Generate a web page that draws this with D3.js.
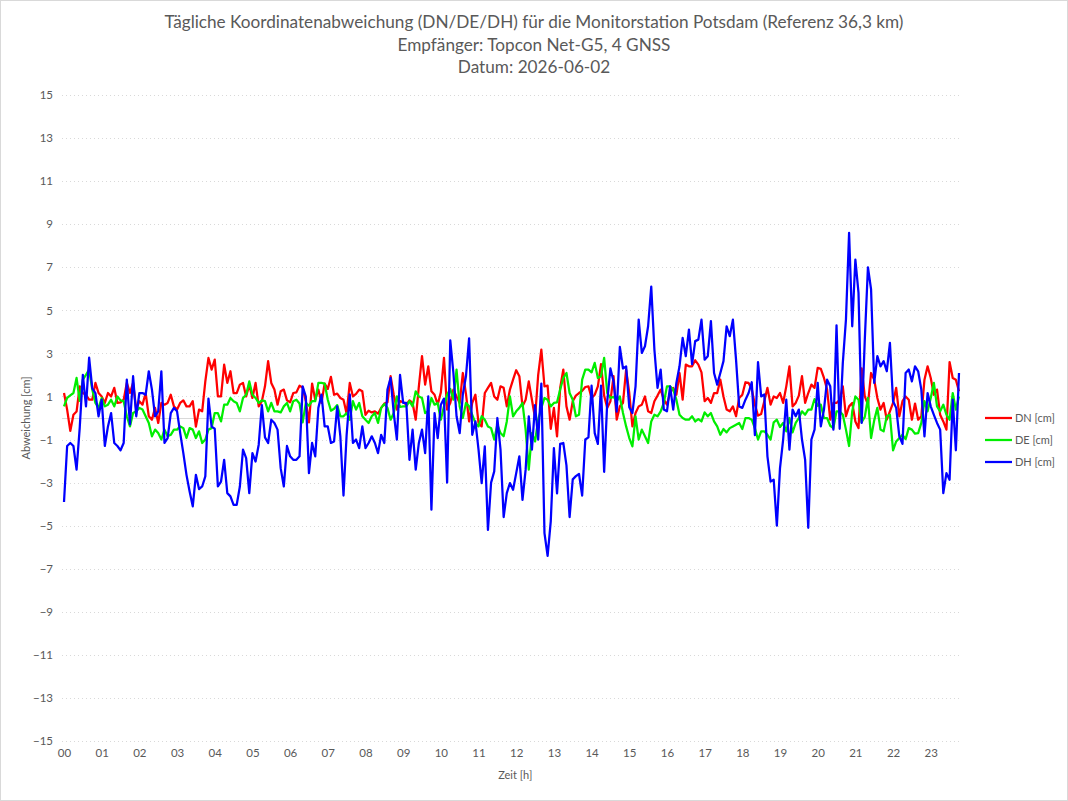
<!DOCTYPE html>
<html>
<head>
<meta charset="utf-8">
<script src="https://cdn.jsdelivr.net/npm/d3@7"></script>
<style>
  body { margin: 0; background: #fff; }
  svg { display: block; }
  text { font-family: Lato, "Open Sans", sans-serif; fill: #595959; }
</style>
</head>
<body>
<svg id="chart" width="1068" height="801"></svg>
<script>
var titleLines = [
  "Tägliche Koordinatenabweichung (DN/DE/DH) für die Monitorstation Potsdam (Referenz 36,3 km)",
  "Empfänger: Topcon Net-G5, 4 GNSS",
  "Datum: 2026-06-02"
];
var seriesNames = ["DN [cm]", "DE [cm]", "DH [cm]"];
var seriesColors = ["#ff0000", "#00ee00", "#0000ff"];

// one value every 5 minutes, starting at 00:00
var stepMinutes = 5;

var dn = [1.16,0.39,-0.6,0.15,0.3,1.47,1.16,1.08,0.85,0.85,1.63,1.16,1.0,0.7,1.16,1.0,1.4,0.7,0.73,0.85,
  1.63,1.16,1.63,0.39,0.78,0.62,1.16,0.08,-0.08,0.47,-0.23,0.7,0.62,0.7,1.08,0.54,0.39,0.7,0.82,0.54,
  0.54,0.78,-0.4,0.39,0.31,1.7,2.79,2.25,2.71,1.0,1.0,2.48,1.63,2.17,1.16,1.16,1.55,1.63,1.0,1.55,
  0.93,1.63,0.54,0.78,1.47,2.64,1.63,1.32,0.62,1.24,1.32,0.82,0.73,1.16,1.19,1.5,1.41,0.78,-0.2,1.6,
  0.85,1.32,0.7,1.6,1.35,1.91,1.08,1.13,0.93,0.85,0.2,1.63,1.0,1.12,1.32,1.24,0.15,0.34,0.26,0.31,
  0.2,0.47,0.67,0.73,1.94,1.08,0.39,0.78,0.74,0.62,0.82,0.7,-0.08,1.47,2.87,1.55,2.4,1.24,1.08,0.62,
  1.19,2.79,0.39,0.7,1.32,1.0,0.7,2.09,1.12,-0.16,0.7,1.08,-0.23,-0.39,1.16,1.4,1.63,1.0,0.85,1.47,
  1.4,0.54,1.32,1.78,2.22,1.94,0.54,0.85,1.7,0.85,0.0,2.0,3.18,1.47,1.5,-0.5,0.47,-0.85,1.4,2.25,
  0.54,-0.08,0.78,1.04,1.16,1.26,1.44,1.47,0.93,1.08,1.47,2.5,1.04,0.47,0.78,1.94,-0.08,0.54,0.7,2.25,
  1.16,-0.39,0.23,0.54,0.62,1.0,0.31,0.23,0.78,1.04,1.32,0.85,0.62,1.16,1.4,1.08,2.09,0.85,2.48,2.4,
  2.4,2.68,2.48,2.12,0.78,0.93,0.7,1.16,1.16,1.78,1.0,0.39,0.31,0.54,0.08,0.93,1.08,1.66,1.63,1.35,
  0.62,0.11,0.19,0.78,1.4,0.62,1.0,0.93,1.16,0.7,1.47,2.4,0.54,0.7,1.04,1.94,0.7,1.16,1.55,1.4,
  2.33,2.28,1.86,1.32,-0.08,0.7,0.7,0.85,1.47,0.08,0.54,0.7,-0.16,-0.47,2.3,1.0,0.62,2.09,1.78,0.93,
  0.39,0.7,-0.08,0.31,0.7,1.4,0.08,0.78,1.0,0.85,-0.08,0.67,-0.08,0.08,1.78,2.4,1.86,1.08,1.32,0.15,
  -0.16,-0.54,2.6,1.86,1.78,1.24];

var de = [0.54,0.93,1.05,1.16,1.86,0.8,1.78,2.0,2.25,1.32,0.7,0.47,0.93,0.54,0.62,0.85,0.54,1.0,0.82,0.78,
  0.08,-0.39,0.23,0.31,0.47,0.39,0.08,-0.23,-0.85,-0.54,-0.7,-1.0,-0.54,-0.85,-0.78,-0.54,-0.54,-0.39,-0.47,-0.93,
  -0.47,-0.54,-0.93,-0.62,-1.16,-1.0,-0.54,-0.47,0.23,0.23,-0.16,0.62,0.62,0.93,0.78,0.7,0.31,0.93,1.08,1.7,
  1.08,0.93,0.7,0.82,0.78,0.31,0.7,0.31,0.31,0.26,0.54,0.7,0.31,0.78,0.85,0.67,-0.2,0.7,0.57,0.78,
  0.78,1.63,1.63,1.6,0.85,0.34,0.43,0.6,0.08,0.08,0.23,-0.08,0.78,0.39,0.7,0.08,-0.08,-0.23,0.08,0.23,
  -0.23,0.47,0.65,0.47,-0.08,0.23,1.0,0.51,0.54,0.54,0.78,0.54,1.24,1.0,0.93,0.23,0.31,0.93,0.62,0.7,
  -0.08,0.54,1.08,1.35,0.85,2.25,0.54,0.0,0.7,0.54,0.15,-0.23,-0.39,0.08,-0.08,-0.39,-0.47,-1.0,-0.31,-0.7,
  -0.85,-0.16,1.0,0.08,0.31,0.47,0.7,-0.54,-2.4,-0.7,-1.09,-0.08,0.47,0.93,0.85,0.54,0.7,0.73,1.32,1.86,
  2.09,1.16,0.85,0.08,0.15,1.78,2.25,2.25,2.12,2.56,1.86,1.94,2.79,1.16,0.93,0.98,0.78,1.0,0.23,-0.39,
  -0.93,-1.32,0.08,-1.0,-0.54,-0.85,-1.16,-0.16,0.15,0.08,0.31,0.7,1.47,1.47,1.32,0.85,0.15,0.0,-0.08,-0.08,
  0.08,-0.16,-0.05,-0.16,0.26,0.08,0.23,-0.16,-0.39,-0.78,-0.51,-0.67,-0.47,-0.39,-0.31,-0.23,-0.51,0.0,0.0,-0.08,
  -0.47,-1.0,-0.62,-0.62,-0.78,-1.0,-0.2,-0.08,-0.42,-0.23,-0.62,0.0,-0.67,-0.23,0.0,0.31,0.15,0.39,0.39,0.88,
  0.57,0.62,0.0,0.0,-0.36,-0.47,0.31,0.31,0.15,-0.54,-1.3,0.31,1.0,0.85,-0.2,0.05,0.93,-0.93,-0.11,0.47,
  -0.54,-0.62,0.08,0.15,-1.5,-1.09,-0.93,-0.78,-0.98,-0.47,-0.54,-0.73,-0.7,-0.23,0.78,0.31,0.93,1.63,0.54,0.31,
  0.62,0.15,-0.08,1.16,0.39,1.0];

var dh = [-3.9,-1.3,-1.16,-1.3,-2.4,-0.47,2.0,0.54,2.8,1.38,1.16,0.08,0.85,-1.3,-0.39,0.23,-1.16,-1.3,-1.5,-1.16,
  1.78,-0.3,1.94,0.08,1.16,1.16,1.08,2.17,1.32,0.08,0.31,2.17,-1.16,-0.93,0.23,0.47,0.31,-0.7,-1.63,-2.64,
  -3.41,-4.1,-2.64,-3.3,-3.18,-2.71,0.9,-0.4,-0.5,-3.18,-2.95,-1.94,-3.49,-3.64,-4.03,-4.03,-3.18,-1.47,-1.86,-3.49,
  -1.63,-2.02,-1.24,0.6,-0.9,-1.16,-0.08,-0.23,-0.54,-2.33,-3.18,-1.3,-1.78,-1.94,-1.94,-1.78,1.47,1.0,-2.56,-1.16,
  -1.78,0.47,1.09,-0.39,-0.39,-1.16,-1.09,0.54,-0.85,-3.6,-0.78,1.1,-1.16,-1.0,-1.4,-0.39,-1.4,-1.16,-0.85,-1.16,
  -1.63,-0.78,-1.16,1.32,1.86,0.23,-1.0,2.0,0.7,0.7,-1.94,-0.54,-2.4,-1.16,-0.54,-1.63,1.0,-4.26,0.23,-0.93,
  0.62,0.9,-3.0,3.6,2.09,0.08,-0.7,1.09,1.94,3.7,-0.78,-0.16,-1.47,-3.02,-1.32,-5.2,-3.0,-2.48,0.0,-1.47,
  -4.6,-3.49,-3.02,-3.33,-2.56,-1.78,-3.8,-2.4,0.08,-1.47,0.6,-1.0,1.6,-5.35,-6.4,-4.8,-1.4,-3.5,-1.2,-1.16,
  -2.2,-4.6,-2.85,-2.7,-2.6,-3.6,-1.0,-0.9,1.5,-0.7,-1.2,1.5,-2.5,0.8,2.3,1.7,0.3,3.3,2.3,2.4,
  0.5,0.23,1.47,4.57,3.02,3.33,4.26,6.1,3.18,1.4,2.25,0.39,0.31,1.47,0.39,1.63,2.4,3.72,2.87,4.1,
  2.5,3.57,3.64,4.57,2.71,2.87,4.5,2.09,1.55,2.09,2.64,4.26,3.8,4.57,2.71,0.54,0.47,0.85,1.16,1.66,
  -0.8,2.6,1.0,1.09,-1.78,-2.95,-2.87,-5.0,-2.33,-1.0,0.85,-1.47,0.39,0.08,0.39,-1.0,-1.94,-5.1,-1.0,-0.54,
  1.63,-0.39,0.39,1.78,1.47,-0.54,4.3,-0.5,2.56,4.57,8.6,4.26,7.36,5.81,-0.23,3.64,7.0,5.97,1.63,2.87,
  2.4,2.64,2.17,3.49,0.78,0.47,-0.85,-1.2,2.09,2.25,1.7,2.4,2.17,1.32,-0.85,1.16,0.54,0.15,-0.23,-0.54,
  -3.49,-2.56,-2.87,0.85,-1.5,2.09];

var yTickValues = [-15,-13,-11,-9,-7,-5,-3,-1,1,3,5,7,9,11,13,15];
var hourLabels = ["00","01","02","03","04","05","06","07","08","09","10","11",
  "12","13","14","15","16","17","18","19","20","21","22","23"];

var W = 1068, H = 801;
var plot = { left: 62, right: 960, top: 95, bottom: 741 };
var svg = d3.select("#chart");

svg.append("rect")
  .attr("x", 0.5).attr("y", 0.5)
  .attr("width", W - 1).attr("height", H - 1)
  .attr("fill", "#fff").attr("stroke", "#d9d9d9");

var lastHour = (dn.length - 1) * stepMinutes / 60;
var x = d3.scaleLinear().domain([0, lastHour]).range([64, 959]);
var y = d3.scaleLinear().domain([-15, 15]).range([plot.bottom, plot.top]);

// title
svg.append("g").selectAll("text")
  .data(titleLines)
  .enter().append("text")
  .attr("x", W / 2)
  .attr("y", function(d, i) { return 28 + i * 22.5; })
  .attr("text-anchor", "middle")
  .style("font-size", "17.2px")
  .text(function(d) { return d; });

// horizontal grid
svg.append("g").selectAll("line")
  .data(yTickValues)
  .enter().append("line")
  .attr("x1", plot.left).attr("x2", plot.right)
  .attr("y1", function(d) { return Math.round(y(d)) + 0.5; })
  .attr("y2", function(d) { return Math.round(y(d)) + 0.5; })
  .attr("stroke", "#d9d9d9")
  .attr("stroke-dasharray", "1,3");

svg.append("line")
  .attr("x1", plot.left).attr("x2", plot.right)
  .attr("y1", Math.round(y(0)) + 0.5).attr("y2", Math.round(y(0)) + 0.5)
  .attr("stroke", "#d9d9d9");

// y axis labels
var yAxis = d3.axisLeft(y).tickValues(yTickValues).tickSize(0).tickPadding(8);
var gy = svg.append("g").attr("transform", "translate(" + (plot.left - 1) + ",0)").call(yAxis);
gy.select(".domain").remove();
gy.selectAll("text").style("font-size", "11.5px").attr("fill", "#595959");

// x axis labels
var xAxis = d3.axisBottom(x)
  .tickValues(d3.range(hourLabels.length))
  .tickFormat(function(d) { return hourLabels[d]; })
  .tickSize(0).tickPadding(8);
var gx = svg.append("g").attr("transform", "translate(0," + plot.bottom + ")").call(xAxis);
gx.select(".domain").remove();
gx.selectAll("text").style("font-size", "11.5px").attr("fill", "#595959");

// axis titles
svg.append("text")
  .attr("transform", "translate(30," + y(0) + ") rotate(-90)")
  .attr("text-anchor", "middle")
  .style("font-size", "11px")
  .text("Abweichung [cm]");

svg.append("text")
  .attr("x", x(12) - 1).attr("y", 779)
  .attr("text-anchor", "middle")
  .style("font-size", "11px")
  .text("Zeit [h]");

// series
var allSeries = [dn, de, dh];
var line = d3.line()
  .x(function(d, i) { return x(i * stepMinutes / 60); })
  .y(function(d) { return y(d); });

svg.append("g").selectAll("path")
  .data(allSeries)
  .enter().append("path")
  .attr("d", line)
  .attr("fill", "none")
  .attr("stroke", function(d, i) { return seriesColors[i]; })
  .attr("stroke-width", 2.25)
  .attr("stroke-linejoin", "round");

// legend
var legend = svg.append("g").selectAll("g")
  .data(seriesNames)
  .enter().append("g")
  .attr("transform", function(d, i) { return "translate(985," + (418 + i * 22) + ")"; });

legend.append("line")
  .attr("x1", 0).attr("x2", 27)
  .attr("stroke", function(d, i) { return seriesColors[i]; })
  .attr("stroke-width", 2.25);

legend.append("text")
  .attr("x", 30).attr("y", 4)
  .style("font-size", "11px")
  .text(function(d) { return d; });
</script>
</body>
</html>
